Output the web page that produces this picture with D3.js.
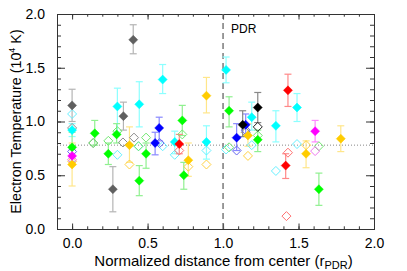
<!DOCTYPE html>
<html>
<head>
<meta charset="utf-8">
<script src="https://cdn.jsdelivr.net/npm/d3@7"></script>
<style>
  body { margin: 0; background: #fff; }
  text { font-family: "Liberation Sans", Arial, sans-serif; }
</style>
</head>
<body>
<svg id="viz"></svg>
<script>
var width = 407, height = 271;
var margin = {top: 14, right: 33, bottom: 42, left: 57};

// filled points: [x, y, errLow, errHigh]; open points: [x, y]
var grayFilled = [[0.00, 1.15, 1.00, 1.30], [0.27, 0.37, 0.16, 0.58], [0.34, 1.05, 0.92, 1.18], [0.405, 1.76, 1.63, 1.90]];
var grayOpen = [[0.00, 0.94], [0.14, 0.80], [0.337, 0.805], [0.41, 0.85], [1.15, 0.90]];
var blackFilled = [[1.13, 0.97, 0.86, 1.10], [1.23, 1.13, 0.99, 1.27]];
var blackOpen = [[1.23, 0.95]];
var cyanFilled = [[0.00, 0.92, 0.86, 0.98], [0.30, 1.14, 0.90, 1.31], [0.445, 1.16, 0.95, 1.37], [0.60, 1.39, 1.26, 1.53],
  [0.68, 0.81, 0.70, 0.91], [0.89, 0.81, 0.65, 0.96], [1.02, 1.48, 1.36, 1.60], [1.19, 1.04, 0.92, 1.18],
  [1.35, 0.96, 0.81, 1.10], [1.49, 1.13, 1.00, 1.26]];
var cyanOpen = [[0.00, 1.07], [0.30, 0.69], [0.44, 0.77], [0.60, 0.77], [0.68, 0.69], [0.89, 0.73],
  [1.02, 0.74], [1.19, 0.78], [1.35, 0.54], [1.49, 0.79]];
var greenFilled = [[0.00, 0.76, 0.63, 0.90], [0.15, 0.89, 0.78, 1.01], [0.24, 0.70, 0.60, 0.80], [0.295, 0.88, 0.80, 0.98],
  [0.445, 0.45, 0.31, 0.59], [0.49, 0.70, 0.565, 0.80], [0.73, 1.01, 0.87, 1.15], [0.74, 0.50, 0.37, 0.62],
  [1.04, 1.10, 0.95, 1.23], [1.23, 0.83, 0.72, 0.92], [1.635, 0.37, 0.22, 0.52]];
var greenOpen = [[0.14, 0.80], [0.24, 0.82], [0.30, 0.91], [0.44, 0.77], [0.49, 0.85], [0.73, 0.88],
  [1.04, 0.76], [1.23, 0.87], [1.635, 0.77]];
var blueFilled = [[0.55, 0.80, 0.69, 0.90], [0.577, 0.94, 0.82, 1.04], [1.09, 0.85, 0.73, 0.98], [1.15, 0.97, 0.86, 1.07]];
var blueOpen = [[0.00, 0.72], [0.58, 0.80], [1.09, 0.73], [1.15, 0.92]];
var yellowFilled = [[0.00, 0.60, 0.40, 0.80], [0.38, 0.78, 0.62, 0.95], [0.77, 0.64, 0.49, 0.80], [0.89, 1.24, 1.08, 1.41],
  [1.165, 0.87, 0.77, 0.98], [1.55, 0.70, 0.57, 0.82], [1.78, 0.84, 0.72, 0.96]];
var yellowOpen = [[0.00, 0.63], [0.38, 0.60], [0.77, 0.58], [0.89, 0.60], [1.165, 0.68], [1.55, 0.78]];
var redFilled = [[0.71, 0.79, 0.70, 0.88], [1.415, 0.59, 0.47, 0.70], [1.43, 1.29, 1.14, 1.44]];
var redOpen = [[0.71, 0.73], [1.43, 0.71], [1.42, 0.12]];
var magentaFilled = [[0.00, 0.68, 0.62, 0.74], [1.61, 0.91, 0.81, 1.01]];
var magentaOpen = [[0.00, 0.645], [1.61, 0.725]];

var xTicks = [0.0, 0.5, 1.0, 1.5, 2.0];
var yTicks = [0.0, 0.5, 1.0, 1.5, 2.0];
var refTemp = 0.78;
var pdrRadius = 1.0;

var series = [
  {filled: grayFilled, open: grayOpen, color: "#606060", light: "#b4b4b4", openColor: "#8c8c8c"},
  {filled: cyanFilled, open: cyanOpen, color: "#00ffff", light: "#8cffff", openColor: "#66f0ff"},
  {filled: greenFilled, open: greenOpen, color: "#00ff00", light: "#90f090", openColor: "#70e870"},
  {filled: blueFilled, open: blueOpen, color: "#0000ff", light: "#8888ff", openColor: "#6666ee"},
  {filled: yellowFilled, open: yellowOpen, color: "#ffcc00", light: "#ffe68a", openColor: "#ffd040"},
  {filled: redFilled, open: redOpen, color: "#ff0000", light: "#ff8888", openColor: "#ff7070"},
  {filled: magentaFilled, open: magentaOpen, color: "#ff00ff", light: "#ff88ff", openColor: "#ee77ee"},
  {filled: blackFilled, open: blackOpen, color: "#000000", light: "#888888", openColor: "#222222"}
];

var svg = d3.select("#viz").attr("width", width).attr("height", height);

var x = d3.scaleLinear().domain([-0.1, 2.0]).range([margin.left, width - margin.right]);
var y = d3.scaleLinear().domain([0, 2.0]).range([height - margin.bottom, margin.top]);

var axisColor = "#333";
var minorX = d3.range(-0.1, 2.0001, 0.1).map(function(d) { return +d.toFixed(2); });
var minorY = d3.range(0, 2.0001, 0.1).map(function(d) { return +d.toFixed(2); });

// axes, IDL style: ticks inward, mirrored
var plotH = height - margin.top - margin.bottom;
var xMajor = 5.5, yMajor = 8;

svg.append("g").attr("transform", "translate(0," + (height - margin.bottom) + ")")
  .call(d3.axisBottom(x).tickValues(xTicks).tickSize(-xMajor).tickFormat(d3.format(".1f")).tickPadding(9))
  .call(function(g) { g.selectAll("text").attr("font-size", 14).attr("fill", "#000"); });
svg.append("g").attr("transform", "translate(0," + (height - margin.bottom) + ")")
  .call(d3.axisBottom(x).tickValues(minorX).tickSize(-2.7).tickFormat(""));
svg.append("g").attr("transform", "translate(0," + margin.top + ")")
  .call(d3.axisTop(x).tickValues(xTicks).tickSize(-xMajor).tickFormat(""));
svg.append("g").attr("transform", "translate(0," + margin.top + ")")
  .call(d3.axisTop(x).tickValues(minorX).tickSize(-2.7).tickFormat(""));

svg.append("g").attr("transform", "translate(" + margin.left + ",0)")
  .call(d3.axisLeft(y).tickValues(yTicks).tickSize(-yMajor).tickFormat(d3.format(".1f")).tickPadding(12))
  .call(function(g) { g.selectAll("text").attr("font-size", 14).attr("fill", "#000"); });
svg.append("g").attr("transform", "translate(" + margin.left + ",0)")
  .call(d3.axisLeft(y).tickValues(minorY).tickSize(-4).tickFormat(""));
svg.append("g").attr("transform", "translate(" + (width - margin.right) + ",0)")
  .call(d3.axisRight(y).tickValues(yTicks).tickSize(-yMajor).tickFormat(""));
svg.append("g").attr("transform", "translate(" + (width - margin.right) + ",0)")
  .call(d3.axisRight(y).tickValues(minorY).tickSize(-4).tickFormat(""));

svg.selectAll(".domain").attr("stroke", axisColor);
svg.selectAll(".tick line").attr("stroke", axisColor);

// reference lines
svg.append("line")
  .attr("x1", x(pdrRadius)).attr("x2", x(pdrRadius))
  .attr("y1", y(0)).attr("y2", y(2))
  .attr("stroke", "#666").attr("stroke-width", 1.3).attr("stroke-dasharray", "6,4");
svg.append("line")
  .attr("x1", x(-0.1)).attr("x2", x(2.0))
  .attr("y1", y(refTemp)).attr("y2", y(refTemp))
  .attr("stroke", "#888").attr("stroke-width", 1).attr("stroke-dasharray", "1,2");

svg.append("text").attr("x", x(pdrRadius) + 8).attr("y", 33)
  .attr("font-size", 12).text("PDR");

function diamond(r) {
  return "M0," + (-r) + "L" + r + ",0L0," + r + "L" + (-r) + ",0Z";
}

var marks = svg.append("g");
var cap = 3.5;

// error bars
series.forEach(function(s) {
  var g = marks.append("g").attr("stroke", s.light).attr("stroke-width", 1.2).attr("fill", "none");
  s.filled.forEach(function(d) {
    g.append("line").attr("x1", x(d[0])).attr("x2", x(d[0])).attr("y1", y(d[2])).attr("y2", y(d[3]));
    g.append("line").attr("x1", x(d[0]) - cap).attr("x2", x(d[0]) + cap).attr("y1", y(d[2])).attr("y2", y(d[2]));
    g.append("line").attr("x1", x(d[0]) - cap).attr("x2", x(d[0]) + cap).attr("y1", y(d[3])).attr("y2", y(d[3]));
  });
});

// open diamonds
series.forEach(function(s) {
  marks.append("g").selectAll("path").data(s.open).enter().append("path")
    .attr("d", diamond(4.5))
    .attr("transform", function(d) { return "translate(" + x(d[0]) + "," + y(d[1]) + ")"; })
    .attr("fill", "none").attr("stroke", s.openColor).attr("stroke-width", 1);
});

// filled diamonds
series.forEach(function(s) {
  marks.append("g").selectAll("path").data(s.filled).enter().append("path")
    .attr("d", diamond(4.5))
    .attr("transform", function(d) { return "translate(" + x(d[0]) + "," + y(d[1]) + ")"; })
    .attr("fill", s.color).attr("stroke", s.color).attr("stroke-width", 0.5);
});

// axis titles
var xt = svg.append("text").attr("x", (margin.left + width - margin.right) / 2 + 8).attr("y", 266)
  .attr("text-anchor", "middle").attr("font-size", 15);
xt.append("tspan").text("Normalized distance from center (r");
xt.append("tspan").attr("font-size", 11).attr("dy", 3).text("PDR");
xt.append("tspan").attr("dy", -3).text(")");

var yt = svg.append("text")
  .attr("transform", "translate(21," + (margin.top + plotH / 2) + ") rotate(-90)")
  .attr("text-anchor", "middle").attr("font-size", 14.3);
yt.append("tspan").text("Electron Temperature (10");
yt.append("tspan").attr("font-size", 9).attr("dy", -6).text("4");
yt.append("tspan").attr("dy", 6).text(" K)");
</script>
</body>
</html>
